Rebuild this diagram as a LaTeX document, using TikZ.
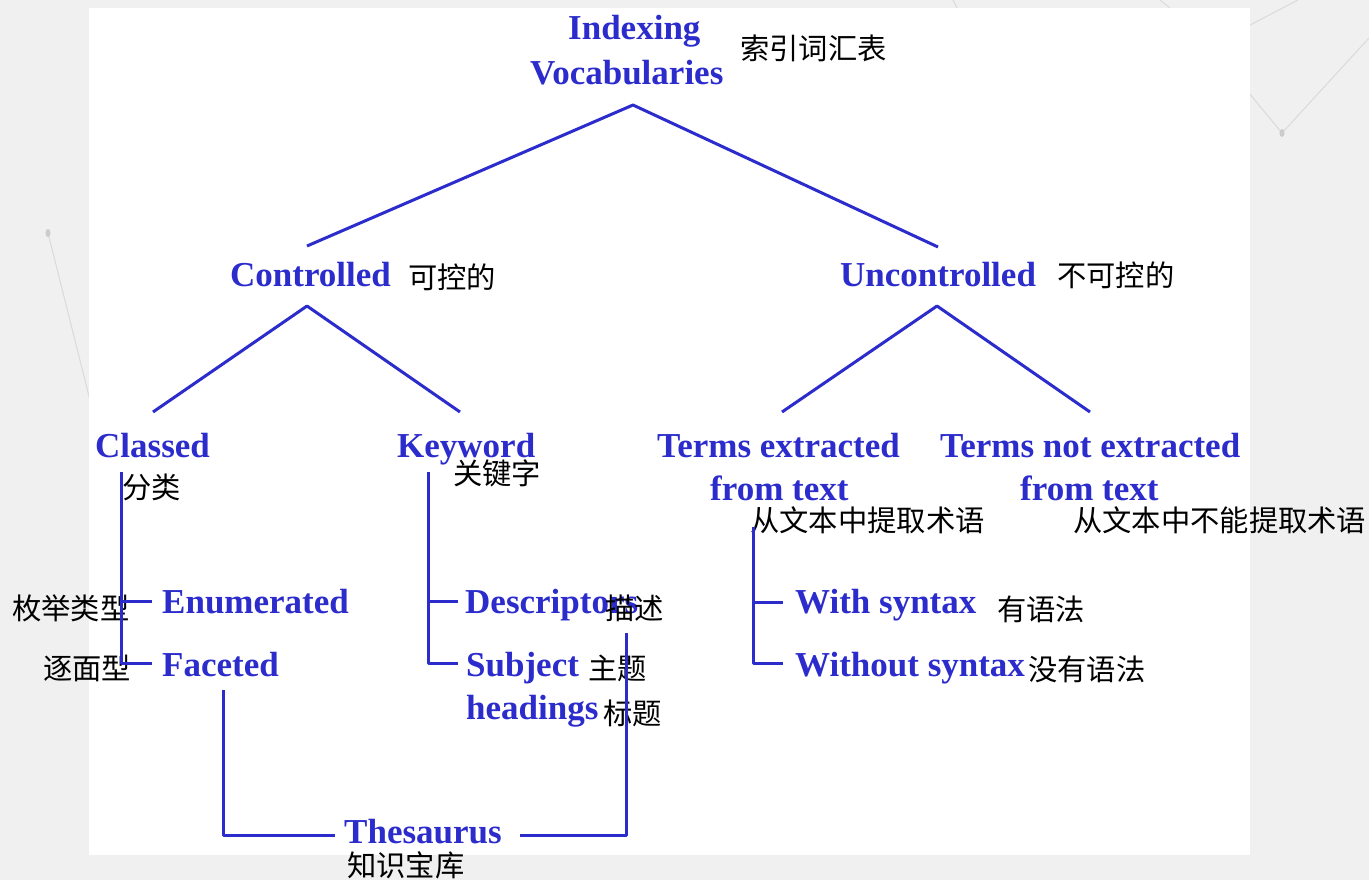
\documentclass[tikz,border=0pt]{standalone}
\usepackage{fontspec}
\setmainfont{Liberation Serif}
\newfontfamily\cjk{Noto Sans CJK SC}
\definecolor{ink}{RGB}{44,44,205}
\definecolor{slide}{RGB}{240,240,240}
\definecolor{streak}{RGB}{218,218,218}
\begin{document}
\begin{tikzpicture}[x=1pt,y=-1pt,
  en/.style={font=\fontsize{35}{40}\selectfont\bfseries, text=ink, inner sep=0pt, anchor=base west},
  zh/.style={font=\cjk\fontsize{29.3}{33}\selectfont, text=black, inner sep=0pt, anchor=west},
  link/.style={draw=ink, line width=3pt, line join=round, line cap=butt},
  faint/.style={draw=streak, line width=1pt},
  dot/.style={fill=streak!85!gray}]
\useasboundingbox (0,0) rectangle (1369,880);
% slide backdrop with its thin decorative streaks
\fill[slide] (0,0) rectangle (1369,880);
\draw[faint] (48,233) -- (100,440);
\fill[dot] (48,233) ellipse (2.5 and 4);
\draw[faint] (1230,70) -- (1282,133) -- (1369,38);
\draw[faint] (1250,25) -- (1298,0);
\draw[faint] (953,0) -- (957,8);
\draw[faint] (1160,0) -- (1170,8);
\fill[dot] (1282,133) ellipse (2.5 and 4);
% white panel
\fill[white] (89,8) rectangle (1250,855);

% English labels
\node[en] (idx)  at (568,40) {Indexing};
\node[en] (voc)  at (530,85) {Vocabularies};
\node[en] (ctl)  at (230,286) {Controlled};
\node[en] (unc)  at (840,286) {Uncontrolled};
\node[en] (cls)  at (95,457) {Classed};
\node[en] (kw)   at (397,457) {Keyword};
\node[en] (tex)  at (657,457) {Terms extracted};
\node[en] (tex2) at (710,500) {from text};
\node[en] (tnx)  at (940,457) {Terms not extracted};
\node[en] (tnx2) at (1020,500) {from text};
\node[en] (enu)  at (162,613) {Enumerated};
\node[en] (fac)  at (162,676) {Faceted};
\node[en] (des)  at (465,613) {Descriptors};
\node[en] (sub)  at (466,676) {Subject};
\node[en] (hea)  at (466,719) {headings};
\node[en] (wsy)  at (795,613) {With syntax};
\node[en] (wos)  at (795,676) {Without syntax};
\node[en] (the)  at (344,843) {Thesaurus};

% Chinese glosses
\node[zh] (zidx) at (740,48)  {索引词汇表};
\node[zh] (zctl) at (408,277) {可控的};
\node[zh] (zunc) at (1057,275) {不可控的};
\node[zh] (zcls) at (122,487) {分类};
\node[zh] (zkw)  at (453,473) {关键字};
\node[zh] (ztex) at (750,520) {从文本中提取术语};
\node[zh] (ztnx) at (1073,520) {从文本中不能提取术语};
\node[zh] (zenu) at (12,608)  {枚举类型};
\node[zh] (zfac) at (43,668)  {逐面型};
\node[zh] (zdes) at (605,608) {描述};
\node[zh] (zsub) at (588,668) {主题};
\node[zh] (zhea) at (603,713) {标题};
\node[zh] (zwsy) at (997,609) {有语法};
\node[zh] (zwos) at (1028,669) {没有语法};
\node[zh] (zthe) at (347,865) {知识宝库};

% branch points
\coordinate (topA) at (633,105);
\coordinate (ctlA) at (307,306);
\coordinate (uncA) at (937,306);
\coordinate (ctlL) at (307,246);
\coordinate (uncL) at (938,247);
\coordinate (clsT) at (153,412);
\coordinate (kwT)  at (460,412);
\coordinate (texT) at (782,412);
\coordinate (tnxT) at (1090,412);

% tree lines
\draw[link] (ctlL) -- (topA) -- (uncL);
\draw[link] (clsT) -- (ctlA) -- (kwT);
\draw[link] (texT) -- (uncA) -- (tnxT);

% bracket under Classed
\draw[link] (121,472) -- (121,663) -- (152,663);
\draw[link] (121,601) -- (152,601);
% bracket under Keyword
\draw[link] (428,472) -- (428,663) -- (458,663);
\draw[link] (428,601) -- (458,601);
% bracket under Terms extracted
\draw[link] (753,527) -- (753,663) -- (783,663);
\draw[link] (753,602) -- (783,602);

% Thesaurus links
\draw[link] (223,690) -- (223,835) -- (335,835);
\draw[link] (520,835) -- (626,835) -- (626,633);
\end{tikzpicture}
\end{document}
